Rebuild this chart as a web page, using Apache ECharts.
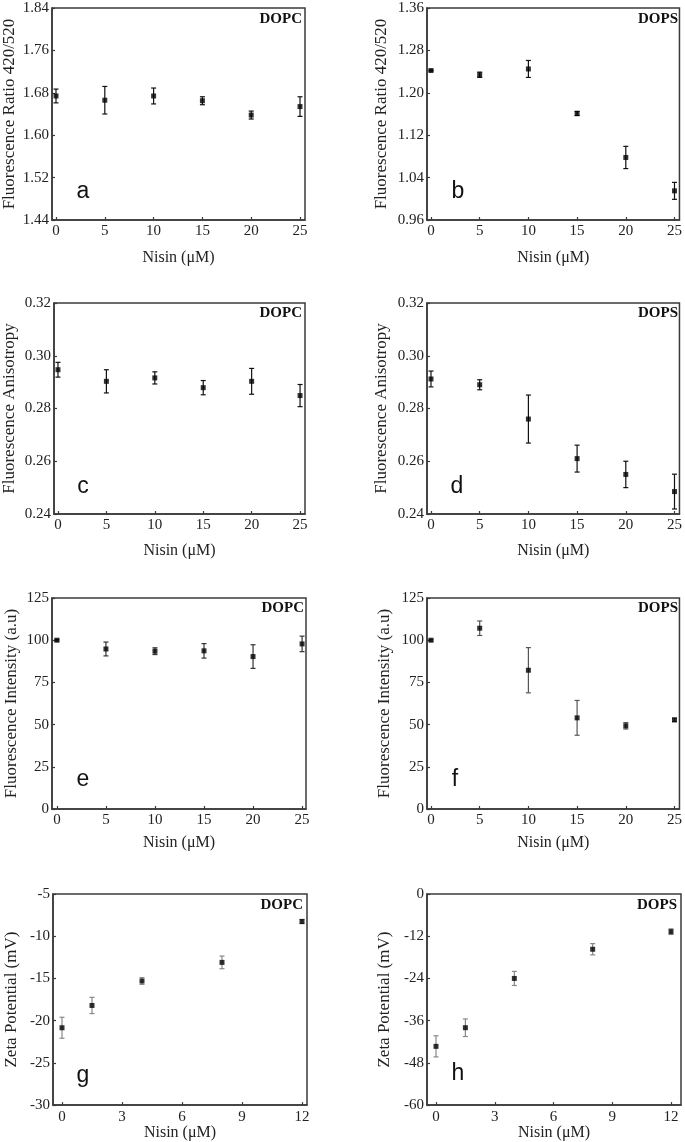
<!DOCTYPE html>
<html>
<head>
<meta charset="utf-8">
<script src="https://cdn.jsdelivr.net/npm/echarts@6/dist/echarts.min.js"></script>
<style>
  html, body { margin: 0; padding: 0; background: #fff; }
  #chart { width: 685px; height: 1142px; }
</style>
</head>
<body>
<div id="chart"></div>
<script>
// ---------- data ----------
const nisinConc = [0, 5, 10, 15, 20, 25];
const nisinZeta = [0, 1.5, 4, 8, 12];

const ratioDOPC = [1.674, 1.666, 1.674, 1.665, 1.638, 1.654];
const ratioDOPCErr = [0.013, 0.026, 0.015, 0.0075, 0.0075, 0.0185];
const ratioDOPS = [1.242, 1.234, 1.245, 1.161, 1.078, 1.015];
const ratioDOPSErr = [0.001, 0.005, 0.016, 0.004, 0.021, 0.016];

const anisoDOPC = [0.2947, 0.2903, 0.2916, 0.2879, 0.2903, 0.2849];
const anisoDOPCErr = [0.0028, 0.0044, 0.0023, 0.0027, 0.0049, 0.0042];
const anisoDOPS = [0.2912, 0.2890, 0.2760, 0.2610, 0.2550, 0.2485];
const anisoDOPSErr = [0.0030, 0.0019, 0.0091, 0.0051, 0.0050, 0.0066];

const intenDOPC = [100, 94.8, 93.5, 93.7, 90.3, 97.8];
const intenDOPCErr = [0.5, 4.1, 2.0, 4.3, 7.0, 4.6];
const intenDOPS = [100, 107.1, 82.2, 54.0, 49.3, 52.8];
const intenDOPSErr = [0.5, 4.3, 13.4, 10.3, 1.9, 1.0];

const zetaDOPC = [-20.84, -18.2, -15.3, -13.1, -8.26];
const zetaDOPCErr = [1.24, 0.96, 0.4, 0.75, 0.25];
const zetaDOPS = [-43.3, -38.0, -24.0, -15.7, -10.7];
const zetaDOPSErr = [3.0, 2.5, 2.0, 1.6, 0.8];

const concTicks = [0, 5, 10, 15, 20, 25];
const zetaXTicks = [0, 3, 6, 9, 12];
const ratioDOPCTicks = [1.44, 1.52, 1.60, 1.68, 1.76, 1.84];
const ratioDOPSTicks = [0.96, 1.04, 1.12, 1.20, 1.28, 1.36];
const anisoTicks = [0.24, 0.26, 0.28, 0.30, 0.32];
const intenTicks = [0, 25, 50, 75, 100, 125];
const zetaDOPCTicks = [-30, -25, -20, -15, -10, -5];
const zetaDOPSTicks = [-60, -48, -36, -24, -12, 0];

// ---------- panel layout ----------
const panels = [
  { grid: {left: 51, top: 8, width: 254, height: 212}, x: nisinConc, y: ratioDOPC, e: ratioDOPCErr,
    xr: [-0.41, 25.51], xt: concTicks, yt: ratioDOPCTicks, dec: 2, yname: 'Fluorescence Ratio 420/520',
    ygap: 34, xgap: 30, tag: 'DOPC', tagPos: [302, 12], letter: 'a', lp: [83, 192], ec: '#111' },
  { grid: {left: 427, top: 8, width: 254, height: 212}, x: nisinConc, y: ratioDOPS, e: ratioDOPSErr,
    xr: [-0.41, 25.51], xt: concTicks, yt: ratioDOPSTicks, dec: 2, yname: 'Fluorescence Ratio 420/520',
    ygap: 37, xgap: 30, tag: 'DOPS', tagPos: [678, 12], letter: 'b', lp: [458, 192], ec: '#111' },
  { grid: {left: 51, top: 303, width: 254, height: 211}, x: nisinConc, y: anisoDOPC, e: anisoDOPCErr,
    xr: [-0.41, 25.51], xt: concTicks, yt: anisoTicks, dec: 2, yname: 'Fluorescence Anisotropy',
    ygap: 36, xgap: 29, tag: 'DOPC', tagPos: [302, 306], letter: 'c', lp: [83, 487], ec: '#111' },
  { grid: {left: 427, top: 303, width: 254, height: 211}, x: nisinConc, y: anisoDOPS, e: anisoDOPSErr,
    xr: [-0.41, 25.51], xt: concTicks, yt: anisoTicks, dec: 2, yname: 'Fluorescence Anisotropy',
    ygap: 37, xgap: 29, tag: 'DOPS', tagPos: [678, 306], letter: 'd', lp: [457, 487], ec: '#111' },
  { grid: {left: 52, top: 598, width: 254, height: 211}, x: nisinConc, y: intenDOPC, e: intenDOPCErr,
    xr: [-0.5, 25.4], xt: concTicks, yt: intenTicks, dec: 0, yname: 'Fluorescence Intensity (a.u)',
    ygap: 32, xgap: 26, tag: 'DOPC', tagPos: [304, 601], letter: 'e', lp: [83, 780], ec: '#333' },
  { grid: {left: 427, top: 598, width: 254, height: 211}, x: nisinConc, y: intenDOPS, e: intenDOPSErr,
    xr: [-0.41, 25.51], xt: concTicks, yt: intenTicks, dec: 0, yname: 'Fluorescence Intensity (a.u)',
    ygap: 34, xgap: 26, tag: 'DOPS', tagPos: [678, 601], letter: 'f', lp: [455, 780], ec: '#555' },
  { grid: {left: 53, top: 894, width: 254, height: 212}, x: nisinZeta, y: zetaDOPC, e: zetaDOPCErr,
    xr: [-0.45, 12.25], xt: zetaXTicks, yt: zetaDOPCTicks, dec: 0, yname: 'Zeta Potential (mV)',
    ygap: 33, xgap: 18, tag: 'DOPC', tagPos: [303, 898], letter: 'g', lp: [83, 1076], ec: '#888' },
  { grid: {left: 427, top: 894, width: 254, height: 212}, x: nisinZeta, y: zetaDOPS, e: zetaDOPSErr,
    xr: [-0.46, 12.51], xt: zetaXTicks, yt: zetaDOPSTicks, dec: 0, yname: 'Zeta Potential (mV)',
    ygap: 34, xgap: 18, tag: 'DOPS', tagPos: [677, 898], letter: 'h', lp: [458, 1074], ec: '#888' }
];

const serif = '"Liberation Serif", "Times New Roman", serif';
const frameColor = '#3a3a3a';

const grids = [], xAxes = [], yAxes = [], series = [], graphics = [];

panels.forEach((p, i) => {
  grids.push(Object.assign({ show: true, borderColor: frameColor, borderWidth: 1.5, backgroundColor: 'transparent' }, p.grid));
  xAxes.push({
    gridIndex: i, type: 'value', min: p.xr[0], max: p.xr[1],
    name: 'Nisin (\u03BCM)', nameLocation: 'middle', nameGap: p.xgap,
    nameTextStyle: { fontFamily: serif, fontSize: 16, color: '#222' },
    axisLine: { show: true, onZero: false, lineStyle: { color: frameColor, width: 1.5 } },
    axisTick: { show: true, inside: true, length: 3, customValues: p.xt, lineStyle: { color: frameColor, width: 1.2 } },
    axisLabel: { customValues: p.xt, fontFamily: serif, fontSize: 15, color: '#222', margin: 4,
      formatter: v => String(v) },
    splitLine: { show: false }
  });
  yAxes.push({
    gridIndex: i, type: 'value', min: p.yt[0], max: p.yt[p.yt.length - 1],
    name: p.yname, nameLocation: 'middle', nameGap: p.ygap,
    nameTextStyle: { fontFamily: serif, fontSize: 17, color: '#222' },
    axisLine: { show: true, onZero: false, lineStyle: { color: frameColor, width: 1.5 } },
    axisTick: { show: true, inside: true, length: 3, customValues: p.yt, lineStyle: { color: frameColor, width: 1.2 } },
    axisLabel: { customValues: p.yt, fontFamily: serif, fontSize: 15, color: '#222', margin: 3,
      formatter: v => Number(v).toFixed(p.dec) },
    splitLine: { show: false }
  });
  const errData = p.x.map((xv, k) => [xv, p.y[k] - p.e[k], p.y[k] + p.e[k]]);
  series.push({
    type: 'custom', xAxisIndex: i, yAxisIndex: i, data: errData, z: 2,
    encode: { x: 0, y: [1, 2] },
    renderItem: (params, api) => {
      const xv = api.value(0);
      const lo = api.coord([xv, api.value(1)]);
      const hi = api.coord([xv, api.value(2)]);
      const cw = 2.5;
      const st = { stroke: p.ec, lineWidth: 1.2 };
      return {
        type: 'group', children: [
          { type: 'line', shape: { x1: lo[0], y1: lo[1], x2: hi[0], y2: hi[1] }, style: st },
          { type: 'line', shape: { x1: lo[0] - cw, y1: lo[1], x2: lo[0] + cw, y2: lo[1] }, style: st },
          { type: 'line', shape: { x1: hi[0] - cw, y1: hi[1], x2: hi[0] + cw, y2: hi[1] }, style: st }
        ]
      };
    }
  });
  series.push({
    type: 'scatter', xAxisIndex: i, yAxisIndex: i, z: 3,
    symbol: 'rect', symbolSize: 5,
    itemStyle: { color: '#000' },
    data: p.x.map((xv, k) => [xv, p.y[k]])
  });
  graphics.push({
    type: 'text', right: 685 - p.tagPos[0], top: p.tagPos[1],
    style: { text: p.tag, font: 'bold 15px ' + serif, fill: '#111' }
  });
  graphics.push({
    type: 'text', x: p.lp[0], y: p.lp[1],
    style: { text: p.letter, font: '23px "Liberation Sans", Arial, sans-serif', fill: '#111',
      align: 'center', verticalAlign: 'middle' }
  });
});

const chart = echarts.init(document.getElementById('chart'), null, { renderer: 'canvas' });
chart.setOption({
  backgroundColor: '#fff',
  animation: false,
  grid: grids,
  xAxis: xAxes,
  yAxis: yAxes,
  series: series,
  graphic: graphics
});
</script>
</body>
</html>
